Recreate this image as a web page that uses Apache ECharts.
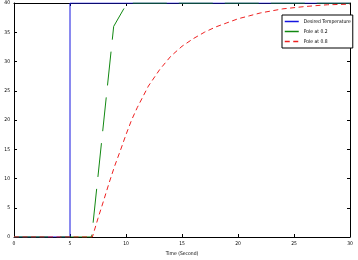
<!DOCTYPE html>
<html>
<head>
<meta charset="utf-8">
<script src="https://cdn.jsdelivr.net/npm/echarts@6/dist/echarts.min.js"></script>
<style>
  html, body { margin: 0; padding: 0; background: #fff; }
  #chart { width: 358px; height: 260px; }
</style>
</head>
<body>
<div id="chart"></div>
<script>
// step input
const desiredT = [0, 5, 5, 30]
const desiredY = [0, 0, 40, 40]

// pole at 0.2
const pole2T = [0, 6.93, 8.9, 10.1, 30]
const pole2Y = [0, 0, 36, 40, 40]

// pole at 0.8
const pole8T = [0, 7, 7.5, 8, 8.5, 9, 9.5, 10, 10.5, 11, 12, 13, 14, 15, 16, 17, 18, 19, 20, 21, 22, 24, 26, 28, 30]
const pole8Y = [0, 0, 3.2, 6.2, 9.3, 12.2, 14.8, 17.5, 20, 22.1, 25.8, 28.6, 30.9, 32.6, 33.9, 35.0, 35.9, 36.6, 37.3, 37.8, 38.3, 39.0, 39.4, 39.7, 39.8]

const xTicks = [0, 30, 5]
const yTicks = [0, 40, 5]

const pairs = (xs, ys) => xs.map((x, i) => [x, ys[i]])

const font = "'Liberation Sans Narrow', 'DejaVu Sans Condensed', 'Liberation Sans', sans-serif"
const black = '#000'

function axisBase(min, max, interval) {
  return {
    type: 'value', min, max, interval,
    axisLine: { show: true, onZero: false, lineStyle: { color: black, width: 1 } },
    axisTick: { show: true, inside: true, length: 3, lineStyle: { color: black } },
    splitLine: { show: false }
  }
}

const chart = echarts.init(document.getElementById('chart'), null, { renderer: 'canvas' })

chart.setOption({
  animation: false,
  backgroundColor: '#fff',
  grid: { left: 14, right: 8, top: 3, bottom: 23, outerBoundsMode: 'none', containLabel: false },
  legend: {
    orient: 'vertical',
    left: 282, top: 15,
    backgroundColor: '#fff',
    borderColor: black, borderWidth: 1, borderRadius: 0,
    padding: [4, 2, 4, 2],
    itemGap: 5, itemWidth: 14, itemHeight: 6,
    itemStyle: { opacity: 0 },
    lineStyle: { width: 1.5 },
    textStyle: { fontSize: 5, fontFamily: font, color: black },
    data: ['Desired Temperature', 'Pole at 0.2', 'Pole at 0.8']
  },
  xAxis: [
    Object.assign(axisBase(xTicks[0], xTicks[1], xTicks[2]), {
      position: 'bottom',
      axisLabel: { fontSize: 5, fontFamily: font, color: black, margin: 4 },
      name: 'Time (Second)', nameLocation: 'middle', nameGap: 12,
      nameTextStyle: { fontSize: 5, fontFamily: font, color: black }
    }),
    Object.assign(axisBase(xTicks[0], xTicks[1], xTicks[2]), {
      position: 'top', axisLabel: { show: false }
    })
  ],
  yAxis: [
    Object.assign(axisBase(yTicks[0], yTicks[1], yTicks[2]), {
      position: 'left',
      axisLabel: { fontSize: 5, fontFamily: font, color: black, margin: 4 },
      name: 'T e m p e r a t u r e   ( D e g r e e   C e l c i u s )',
      nameLocation: 'middle', nameGap: 9,
      nameTextStyle: { fontSize: 5, fontFamily: font, color: black }
    }),
    Object.assign(axisBase(yTicks[0], yTicks[1], yTicks[2]), {
      position: 'right', axisLabel: { show: false }
    })
  ],
  series: [
    {
      name: 'Desired Temperature', type: 'line', symbol: 'none',
      data: pairs(desiredT, desiredY),
      lineStyle: { color: '#1515e0', width: 1 },
      itemStyle: { color: '#1515e0' }
    },
    {
      name: 'Pole at 0.2', type: 'line', symbol: 'none',
      data: pairs(pole2T, pole2Y),
      lineStyle: { color: '#118811', width: 1, type: [34, 12] },
      itemStyle: { color: '#118811' }
    },
    {
      name: 'Pole at 0.8', type: 'line', symbol: 'none',
      data: pairs(pole8T, pole8Y),
      lineStyle: { color: '#ee2020', width: 1, type: [5, 3.5] },
      itemStyle: { color: '#ee2020' }
    }
  ]
})
</script>
</body>
</html>
